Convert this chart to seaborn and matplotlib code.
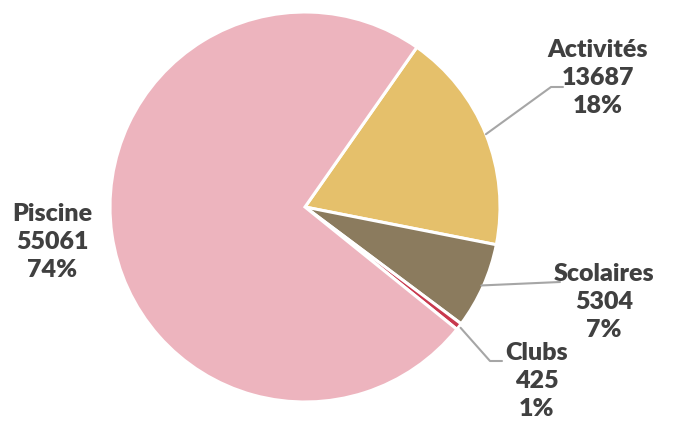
import numpy as np
import matplotlib
matplotlib.use("Agg")
import matplotlib.pyplot as plt
import seaborn as sns

categories = ["Activités", "Scolaires", "Clubs", "Piscine"]
values = [13687, 5304, 425, 55061]
percents = ["18%", "7%", "1%", "74%"]
colors = ["#E5C06B", "#8B7B5E", "#C8394E", "#EDB4BE"]

sns.set_theme(style="white")
plt.rcParams['font.family'] = ['Lato', 'DejaVu Sans']

W, H = 673, 421
cx, cy, r = 305, 207, 195
fig = plt.figure(figsize=(W / 100, H / 100), dpi=100)
ax = fig.add_axes([(cx - r) / W, (H - cy - r) / H, 2 * r / W, 2 * r / H])

wedges, _ = ax.pie(values, colors=colors, startangle=55, counterclock=False,
                   radius=1, wedgeprops=dict(edgecolor="white", linewidth=2.2))
ax.set_xlim(-1, 1)
ax.set_ylim(-1, 1)
ax.set_aspect("equal")
ax.axis("off")

def to_data(px, py):
    return (px - cx) / r, (cy - py) / r

### label centres and leader elbows in pixel space (layout only)
label_pos = {"Activités": (598, 78), "Scolaires": (604, 302),
             "Clubs": (537, 381), "Piscine": (52, 242)}
leaders = {"Activités": [(551, 87), (563, 87)],
           "Scolaires": [(560, 282)],
           "Clubs": [(490, 361), (502, 361)]}
leader_start = {"Activités": 1.0, "Scolaires": 0.99, "Clubs": 1.01}

for w, cat, val, pct in zip(wedges, categories, values, percents):
    tx, ty = to_data(*label_pos[cat])
    ax.text(tx, ty, f"{cat}\n{val}\n{pct}", ha="center", va="center",
            fontsize=18, fontweight="heavy", color="#404040", linespacing=1.33)
    if cat in leaders:
        ang = np.deg2rad((w.theta1 + w.theta2) / 2)
        sx, sy = leader_start[cat] * np.cos(ang), leader_start[cat] * np.sin(ang)
        pts = [(sx, sy)] + [to_data(*p) for p in leaders[cat]]
        ax.plot([p[0] for p in pts], [p[1] for p in pts], color="#A6A6A6",
                linewidth=1.5, clip_on=False)

fig.savefig("out.png", dpi=100, facecolor="white")
